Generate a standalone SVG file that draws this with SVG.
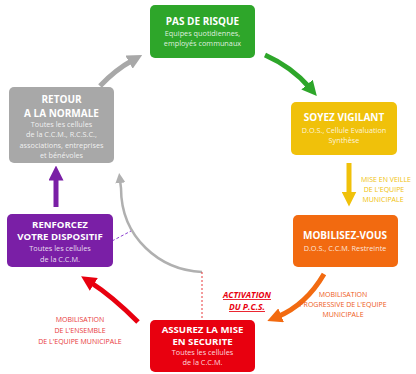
<svg xmlns="http://www.w3.org/2000/svg" width="416" height="374" viewBox="0 0 416 374">
<style>
.t{font-family:"Open Sans","Liberation Sans",sans-serif;font-weight:bold;font-size:10px;fill:#fff;text-anchor:middle}
.t2{font-family:"Open Sans","Liberation Sans",sans-serif;font-weight:bold;font-size:9.6px;fill:#fff;text-anchor:middle}
.s{font-family:"Open Sans","Liberation Sans",sans-serif;font-size:7.3px;fill:#fff;fill-opacity:0.85;text-anchor:middle}
.l{font-family:"Open Sans","Liberation Sans",sans-serif;font-size:7px;text-anchor:middle}
.a{fill:none;stroke-width:5}
</style>
<defs>
<marker id="mg" markerUnits="userSpaceOnUse" viewBox="0 0 10 10" refX="3" refY="5" markerWidth="15" markerHeight="15" orient="auto"><path d="M0,0 L10,5 L0,10 z" fill="#2ea62a"/></marker>
<marker id="my" markerUnits="userSpaceOnUse" viewBox="0 0 10 10" refX="3" refY="5" markerWidth="15" markerHeight="15" orient="auto"><path d="M0,0 L10,5 L0,10 z" fill="#f0c10a"/></marker>
<marker id="mo" markerUnits="userSpaceOnUse" viewBox="0 0 10 10" refX="3" refY="5" markerWidth="15" markerHeight="15" orient="auto"><path d="M0,0 L10,5 L0,10 z" fill="#f26a10"/></marker>
<marker id="mr" markerUnits="userSpaceOnUse" viewBox="0 0 10 10" refX="3" refY="5" markerWidth="15" markerHeight="15" orient="auto"><path d="M0,0 L10,5 L0,10 z" fill="#e8000f"/></marker>
<marker id="mp" markerUnits="userSpaceOnUse" viewBox="0 0 10 10" refX="3" refY="5" markerWidth="15" markerHeight="15" orient="auto"><path d="M0,0 L10,5 L0,10 z" fill="#7a1fa6"/></marker>
<marker id="mgr" markerUnits="userSpaceOnUse" viewBox="0 0 10 10" refX="3" refY="5" markerWidth="15" markerHeight="15" orient="auto"><path d="M0,0 L10,5 L0,10 z" fill="#a8a8a8"/></marker>
<marker id="mgs" markerUnits="userSpaceOnUse" viewBox="0 0 10 10" refX="3" refY="5" markerWidth="10" markerHeight="10" orient="auto"><path d="M0,0 L10,5 L0,10 z" fill="#b0b0b0"/></marker>
</defs>
<rect width="416" height="374" fill="#fff"/>
<g id="connectors">
<path class="a" d="M265,55 Q292,67 310,88" stroke="#2ea62a" marker-end="url(#mg)"/>
<path class="a" d="M349,163 L349,196" stroke="#f0c10a" marker-end="url(#my)"/>
<path class="a" d="M324,274 Q306,305 277,317" stroke="#f26a10" marker-end="url(#mo)"/>
<path class="a" d="M138,322 Q112,296 90,282" stroke="#e8000f" marker-end="url(#mr)"/>
<path class="a" d="M56,207 L56,176" stroke="#7a1fa6" marker-end="url(#mp)"/>
<path class="a" d="M100,86 Q115,70 133,60" stroke="#a8a8a8" marker-end="url(#mgr)"/>
<path d="M202,272 C160,270 121,238 121,188 L120,180" fill="none" stroke="#b0b0b0" stroke-width="2.5" marker-end="url(#mgs)"/>
<path d="M202,272 L202,320" fill="none" stroke="#e8393b" stroke-width="1" stroke-dasharray="2,2"/>
<path d="M112,241 L131,231" fill="none" stroke="#8a3fd0" stroke-width="1" stroke-dasharray="3,2"/>
</g>
<g id="pas-de-risque">
<rect x="150" y="5" width="105" height="53" rx="5" fill="#2ea62a"/>
<text class="t" x="202.5" y="25">PAS DE RISQUE</text>
<text class="s" x="202.5" y="36">Equipes quotidiennes,</text>
<text class="s" x="202.5" y="46">employés communaux</text>
</g>
<g id="soyez-vigilant">
<rect x="291" y="102" width="106" height="53" rx="5" fill="#f0c10a"/>
<text class="t" x="344" y="121">SOYEZ VIGILANT</text>
<text class="s" x="344" y="133">D.O.S., Cellule Evaluation</text>
<text class="s" x="344" y="143">Synthèse</text>
</g>
<g id="mise-en-veille">
<text class="l" fill="#f0c10a" x="386" y="182">MISE EN VEILLE</text>
<text class="l" fill="#f0c10a" x="384" y="192">DE L'EQUIPE</text>
<text class="l" fill="#f0c10a" x="383" y="202">MUNICIPALE</text>
</g>
<g id="mobilisez-vous">
<rect x="293" y="215" width="105" height="52" rx="5" fill="#f26a10"/>
<text class="t" x="345" y="239">MOBILISEZ-VOUS</text>
<text class="s" x="345" y="251">D.O.S., C.C.M. Restreinte</text>
</g>
<g id="mobilisation-progressive">
<text class="l" fill="#ee5a20" x="343" y="297">MOBILISATION</text>
<text class="l" fill="#ee5a20" x="343" y="307">PROGRESSIVE DE L'EQUIPE</text>
<text class="l" fill="#ee5a20" x="343" y="317">MUNICIPALE</text>
</g>
<g id="activation">
<text x="247" y="298" font-family="'Open Sans','Liberation Sans',sans-serif" font-size="8.5" font-weight="bold" font-style="italic" fill="#e8000f" text-anchor="middle" text-decoration="underline">ACTIVATION</text>
<text x="247" y="310" font-family="'Open Sans','Liberation Sans',sans-serif" font-size="8.5" font-weight="bold" font-style="italic" fill="#e8000f" text-anchor="middle" text-decoration="underline">DU P.C.S.</text>
</g>
<g id="assurez">
<rect x="150" y="320" width="105" height="52" rx="5" fill="#e8000f"/>
<text class="t2" x="202.5" y="332.5">ASSUREZ LA MISE</text>
<text class="t2" x="202.5" y="344.5">EN SECURITE</text>
<text class="s" x="202.5" y="355">Toutes les cellules</text>
<text class="s" x="202.5" y="365">de la C.C.M.</text>
</g>
<g id="mobilisation-ensemble">
<text class="l" fill="#e8393b" x="80" y="322">MOBILISATION</text>
<text class="l" fill="#e8393b" x="80" y="333">DE L'ENSEMBLE</text>
<text class="l" fill="#e8393b" x="80" y="344">DE L'EQUIPE MUNICIPALE</text>
</g>
<g id="renforcez">
<rect x="7" y="214" width="106" height="53" rx="5" fill="#7a1fa6"/>
<text class="t2" x="60" y="228">RENFORCEZ</text>
<text class="t2" x="60" y="240">VOTRE DISPOSITIF</text>
<text class="s" x="60" y="251">Toutes les cellules</text>
<text class="s" x="60" y="261.5">de la C.C.M.</text>
</g>
<g id="retour">
<rect x="9" y="87" width="105" height="76" rx="5" fill="#a8a8a8"/>
<text class="t" x="61.5" y="103">RETOUR</text>
<text class="t" x="61.5" y="116.5">A LA NORMALE</text>
<text class="s" x="61.5" y="127">Toutes les cellules</text>
<text class="s" x="61.5" y="137">de la C.C.M., R.C.S.C.,</text>
<text class="s" x="61.5" y="148">associations, entreprises</text>
<text class="s" x="61.5" y="158">et bénévoles</text>
</g>
</svg>
